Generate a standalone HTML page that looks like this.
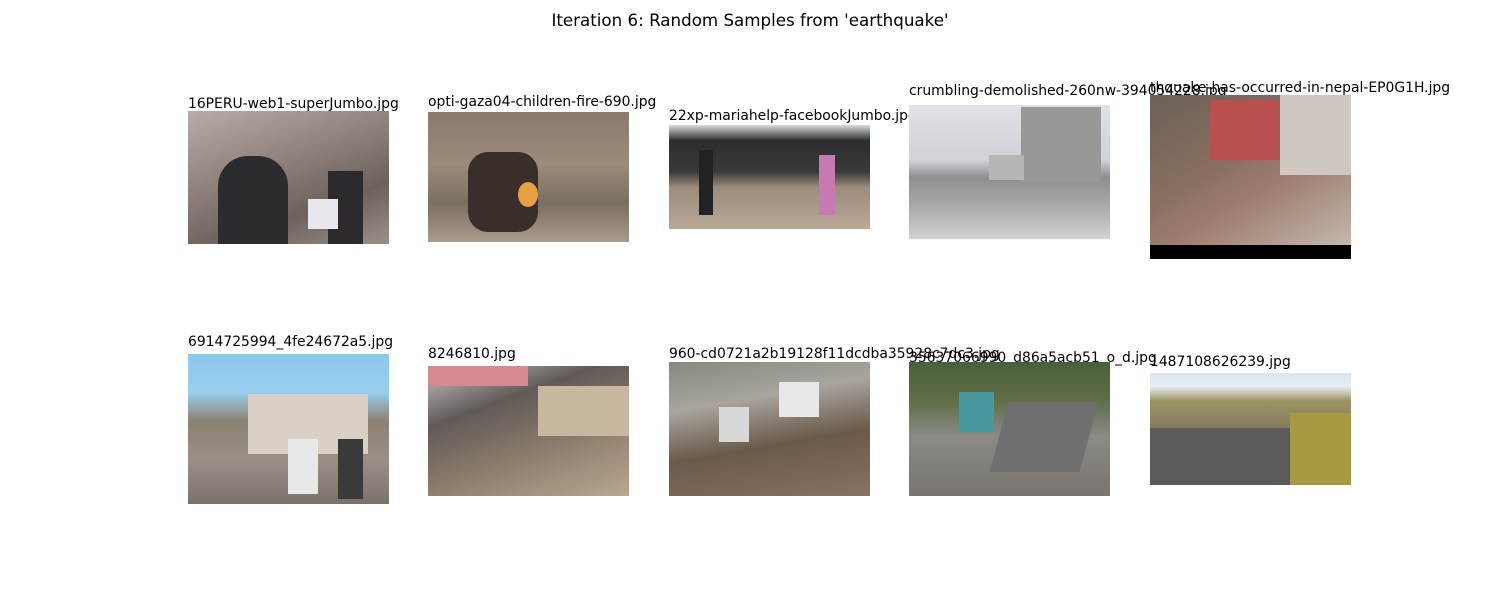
<!DOCTYPE html>
<html><head><meta charset="utf-8">
<style>
body{margin:0;width:1500px;height:600px;background:#fff;position:relative;overflow:hidden;font-family:"DejaVu Sans","Liberation Sans",sans-serif;}
.t{position:absolute;font-size:13.9px;color:#000;white-space:nowrap;line-height:1;}
.img{position:absolute;overflow:hidden;}
.img div{position:absolute;}
#title{position:absolute;top:10px;left:0;width:1500px;text-align:center;font-size:16.7px;}
</style></head>
<body>
<div id="title">Iteration 6: Random Samples from 'earthquake'</div>

<div class="t" style="left:188px;top:98px">16PERU-web1-superJumbo.jpg</div>
<div class="img" style="left:188px;top:111px;width:201px;height:133px;background:linear-gradient(160deg,#b8aca4 0%,#8f827a 40%,#6c625d 70%,#9a8f88 100%)">
<div style="left:30px;top:45px;width:70px;height:88px;background:#2b2b30;border-radius:30px 30px 0 0"></div>
<div style="left:140px;top:60px;width:35px;height:73px;background:#2c2a2c"></div>
<div style="left:120px;top:88px;width:30px;height:30px;background:#e8e8ee"></div>
</div>

<div class="t" style="left:428px;top:96px">opti-gaza04-children-fire-690.jpg</div>
<div class="img" style="left:428px;top:112px;width:201px;height:130px;background:linear-gradient(180deg,#8a7a6c 0%,#9b8b7b 40%,#7b6e62 70%,#a89a8c 100%)">
<div style="left:40px;top:40px;width:70px;height:80px;background:#3a2e2a;border-radius:20px"></div>
<div style="left:90px;top:70px;width:20px;height:25px;background:#e8a040;border-radius:50%"></div>
</div>

<div class="t" style="left:669px;top:110px">22xp-mariahelp-facebookJumbo.jpg</div>
<div class="img" style="left:669px;top:125px;width:201px;height:104px;background:linear-gradient(180deg,#d8dcdc 0%,#2a2e30 15%,#3a3a3a 45%,#9c8c7c 60%,#b8a898 100%)">
<div style="left:30px;top:25px;width:14px;height:65px;background:#222"></div>
<div style="left:150px;top:30px;width:16px;height:60px;background:#c67ab0"></div>
</div>

<div class="t" style="left:909px;top:85px">crumbling-demolished-260nw-394054228.jpg</div>
<div class="img" style="left:909px;top:105px;width:201px;height:145px;background:linear-gradient(180deg,#dfe2e6 0%,#cfd3d8 38%,#8c8e90 50%,#a8aaac 70%,#d0d0d0 92%,#fff 93%)">
<div style="left:112px;top:2px;width:80px;height:75px;background:#9a9896"></div>
<div style="left:80px;top:50px;width:35px;height:25px;background:#b8b6b4"></div>
</div>

<div class="t" style="left:1150px;top:82px">thquake-has-occurred-in-nepal-EP0G1H.jpg</div>
<div class="img" style="left:1150px;top:95px;width:201px;height:164px;background:linear-gradient(150deg,#6a6058 0%,#8a7060 40%,#a08070 60%,#c8c0b8 100%)">
<div style="left:60px;top:5px;width:70px;height:60px;background:#b85050"></div>
<div style="left:130px;top:0px;width:71px;height:80px;background:#cfc8c0"></div>
<div style="left:0;top:150px;width:201px;height:14px;background:#000"></div>
</div>

<div class="t" style="left:188px;top:336px">6914725994_4fe24672a5.jpg</div>
<div class="img" style="left:188px;top:354px;width:201px;height:150px;background:linear-gradient(180deg,#8cc8ec 0%,#98cff0 25%,#8c8070 45%,#9a9088 70%,#7a7268 100%)">
<div style="left:60px;top:40px;width:120px;height:60px;background:#d8d0c4"></div>
<div style="left:100px;top:85px;width:30px;height:55px;background:#e8e8e8"></div>
<div style="left:150px;top:85px;width:25px;height:60px;background:#3a3a3a"></div>
</div>

<div class="t" style="left:428px;top:348px">8246810.jpg</div>
<div class="img" style="left:428px;top:366px;width:201px;height:130px;background:linear-gradient(160deg,#c8c4c0 0%,#605a58 30%,#8a7a6a 60%,#b8a890 100%)">
<div style="left:0;top:0;width:100px;height:20px;background:#d88890"></div>
<div style="left:110px;top:20px;width:91px;height:50px;background:#c8b8a0"></div>
</div>

<div class="t" style="left:669px;top:348px">960-cd0721a2b19128f11dcdba35928c7dc3.jpg</div>
<div class="img" style="left:669px;top:362px;width:201px;height:134px;background:linear-gradient(170deg,#8a8680 0%,#a8a49e 30%,#6a5a4a 60%,#8a7260 100%)">
<div style="left:110px;top:20px;width:40px;height:35px;background:#e8e8e8"></div>
<div style="left:50px;top:45px;width:30px;height:35px;background:#d8d8d8"></div>
</div>

<div class="t" style="left:909px;top:352px">35637066990_d86a5acb51_o_d.jpg</div>
<div class="img" style="left:909px;top:362px;width:201px;height:134px;background:linear-gradient(180deg,#486038 0%,#607048 30%,#8a8a86 55%,#7a7470 100%)">
<div style="left:50px;top:30px;width:35px;height:40px;background:#4898a0"></div>
<div style="left:90px;top:40px;width:90px;height:70px;background:#707070;transform:skewX(-15deg)"></div>
</div>

<div class="t" style="left:1150px;top:356px">1487108626239.jpg</div>
<div class="img" style="left:1150px;top:373px;width:201px;height:112px;background:linear-gradient(180deg,#d8e4ee 0%,#e8eef4 12%,#9a9462 25%,#8a8060 45%,#6a6660 60%,#585858 100%)">
<div style="left:0;top:55px;width:201px;height:57px;background:#5a5a5a"></div>
<div style="left:140px;top:40px;width:61px;height:72px;background:#a89a40"></div>
</div>
</body></html>
